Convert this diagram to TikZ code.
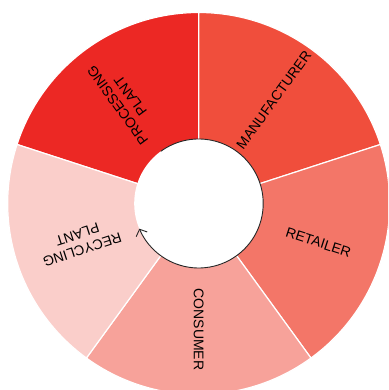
\documentclass[tikz,border=0pt]{standalone}
\usepackage{fontspec}
\setmainfont{Liberation Sans}
\usetikzlibrary{arrows.meta}
\definecolor{procred}{HTML}{EC2824}
\definecolor{manured}{HTML}{F04E3C}
\definecolor{retared}{HTML}{F37668}
\definecolor{consred}{HTML}{F7A29A}
\definecolor{recyred}{HTML}{FACECA}
\tikzset{
  wedge/.style={draw=white,line width=1.2pt},
  lbl/.style={font=\fontsize{14}{16}\selectfont,align=center,text=black,inner sep=1pt}
}
\begin{document}
\begin{tikzpicture}
        \useasboundingbox (-198.7pt,-186.5pt) rectangle (189.3pt,203.5pt);
        \clip (-198.7pt,-186.5pt) rectangle (189.3pt,203.5pt);
        %% Segments
        \filldraw[wedge,fill=procred] (0,0) -- (90:191pt) arc[start angle=90,end angle=162,radius=191pt] -- cycle;
        \filldraw[wedge,fill=manured] (0,0) -- (18:191pt) arc[start angle=18,end angle=90,radius=191pt] -- cycle;
        \filldraw[wedge,fill=retared] (0,0) -- (-54:191pt) arc[start angle=-54,end angle=18,radius=191pt] -- cycle;
        \filldraw[wedge,fill=consred] (0,0) -- (-126:191pt) arc[start angle=-126,end angle=-54,radius=191pt] -- cycle;
        \filldraw[wedge,fill=recyred] (0,0) -- (162:191pt) arc[start angle=162,end angle=234,radius=191pt] -- cycle;
        %% Hub
        \fill[white] (0,0) circle[radius=64.5pt];
        \draw[line width=0.9pt,draw=black!85,-{Straight Barb[length=5.5pt,width=12pt]}] (126:64.5pt) arc[start angle=126,end angle=-157,radius=64.5pt];
        %% Labels
        \node[lbl,rotate=54] (M) at (54:127.75pt) {MANUFACTURER};
        \node[lbl,rotate=-18] (R) at (-18:126pt) {RETAILER};
        \node[lbl,rotate=-90] (C) at (-90:126pt) {CONSUMER};
        \node[lbl,rotate=198] (Y) at (198:125pt) {RECYCLING\\PLANT};
        \node[lbl,rotate=126] (P) at (126:127pt) {PROCESSING\\PLANT};
\end{tikzpicture}
\end{document}
